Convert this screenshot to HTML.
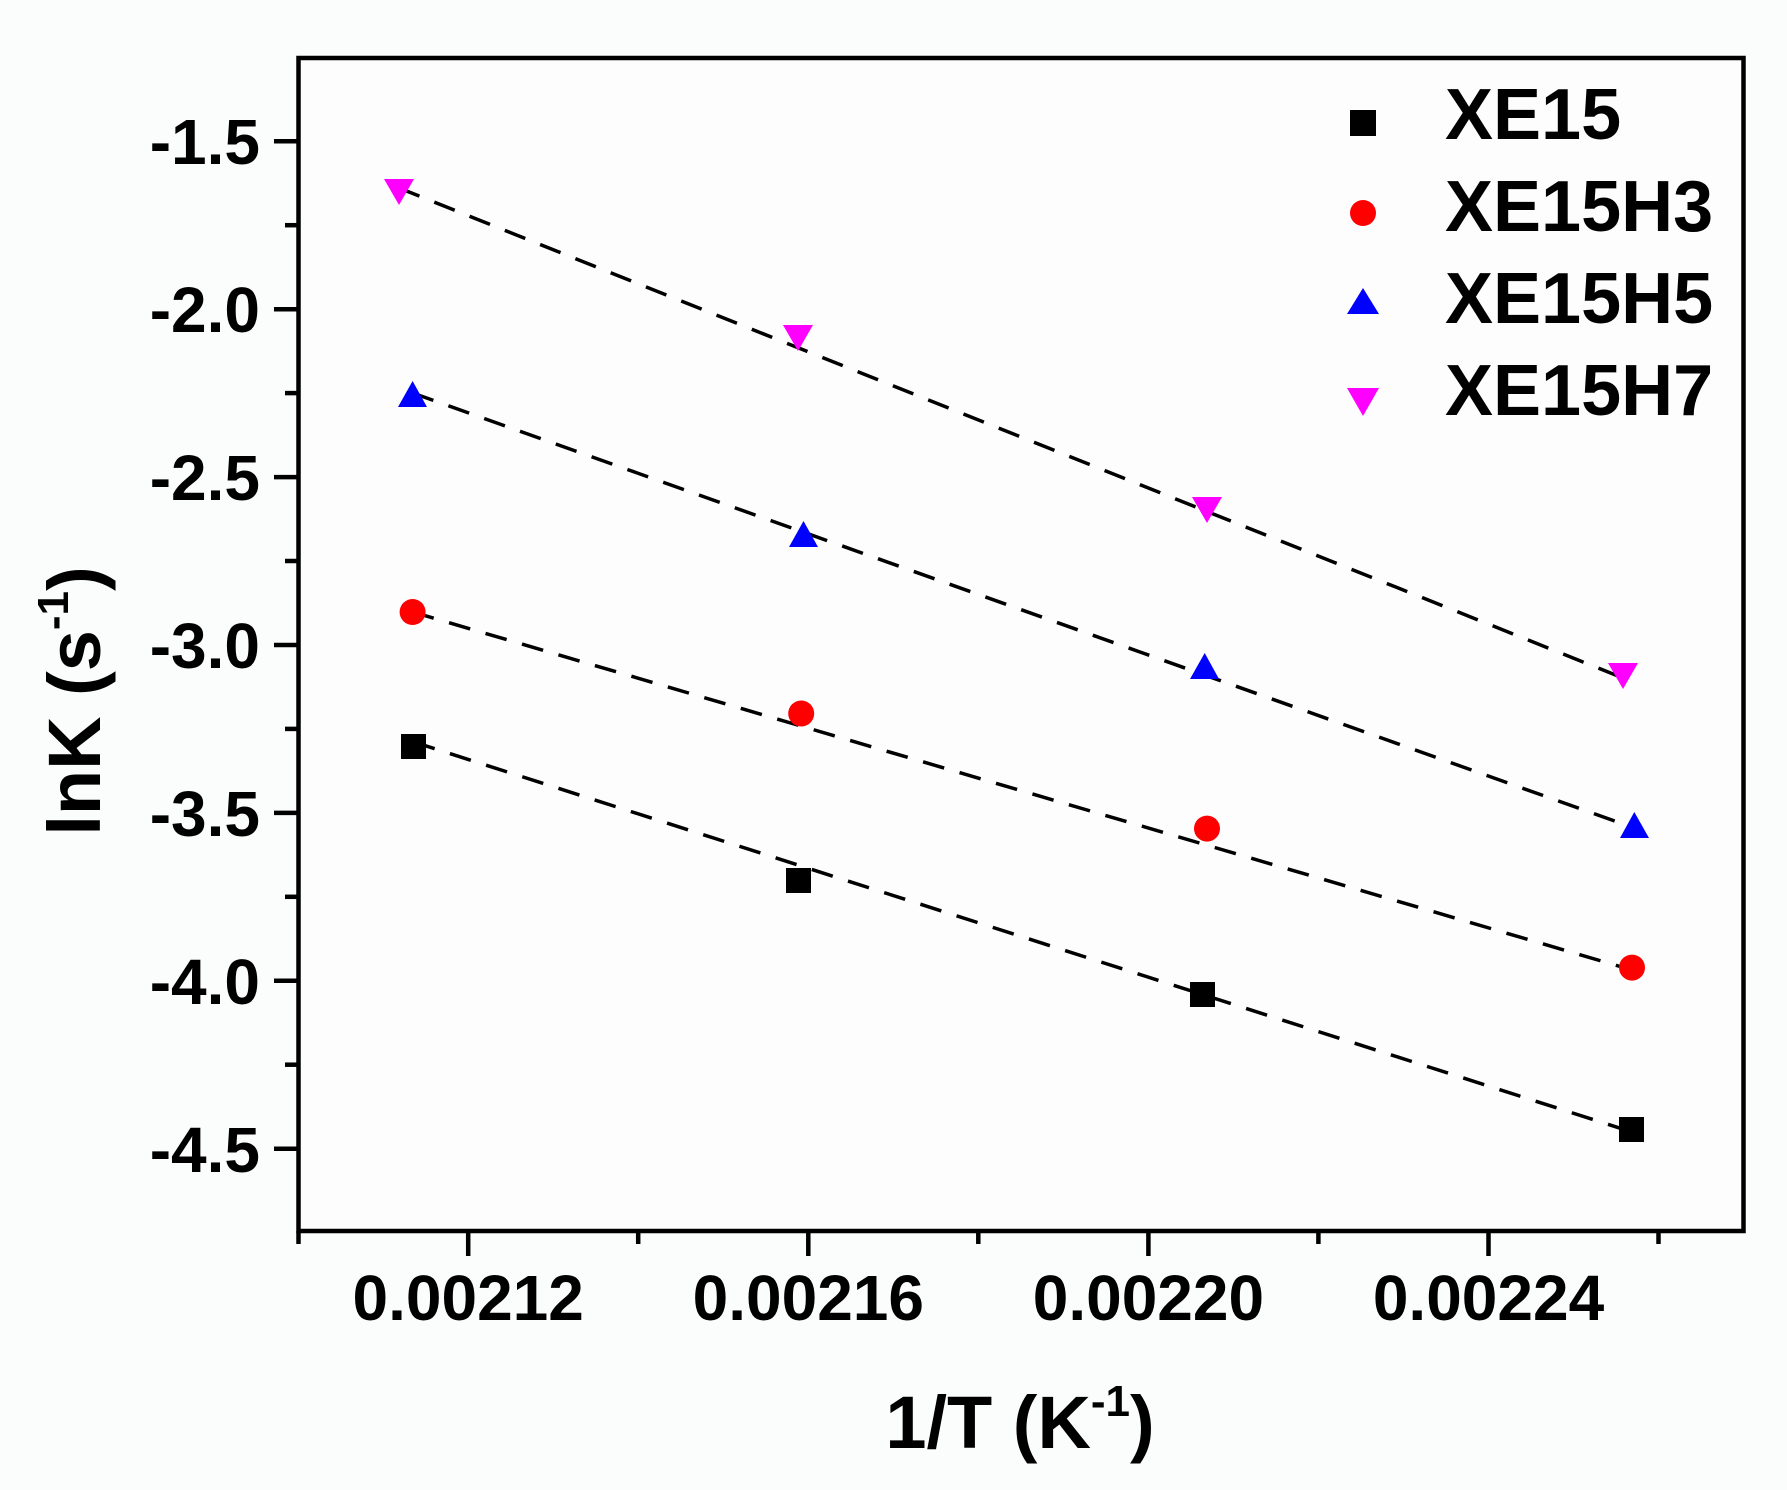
<!DOCTYPE html>
<html><head><meta charset="utf-8"><style>
html,body{margin:0;padding:0;background:#fbfcfc;}
svg{display:block;font-family:"Liberation Sans",Arial,sans-serif;font-weight:bold;}
</style></head><body>
<svg width="1787" height="1490" viewBox="0 0 1787 1490" xmlns="http://www.w3.org/2000/svg">
<rect x="0" y="0" width="1787" height="1490" fill="#fbfcfc"/>
<rect x="298.5" y="58" width="1445" height="1173" fill="#fdfdfd" stroke="#000" stroke-width="4.5"/>
<g stroke="#000" stroke-width="4.5">
<line x1="274" y1="141.3" x2="298" y2="141.3"/>
<line x1="274" y1="309.2" x2="298" y2="309.2"/>
<line x1="274" y1="477.1" x2="298" y2="477.1"/>
<line x1="274" y1="645" x2="298" y2="645"/>
<line x1="274" y1="812.9" x2="298" y2="812.9"/>
<line x1="274" y1="980.8" x2="298" y2="980.8"/>
<line x1="274" y1="1148.7" x2="298" y2="1148.7"/>
<line x1="285" y1="225.2" x2="298" y2="225.2"/>
<line x1="285" y1="393.1" x2="298" y2="393.1"/>
<line x1="285" y1="561" x2="298" y2="561"/>
<line x1="285" y1="728.9" x2="298" y2="728.9"/>
<line x1="285" y1="896.8" x2="298" y2="896.8"/>
<line x1="285" y1="1064.7" x2="298" y2="1064.7"/>
<line x1="468.2" y1="1231" x2="468.2" y2="1256"/>
<line x1="808.3" y1="1231" x2="808.3" y2="1256"/>
<line x1="1148.4" y1="1231" x2="1148.4" y2="1256"/>
<line x1="1488.5" y1="1231" x2="1488.5" y2="1256"/>
<line x1="298.5" y1="1231" x2="298.5" y2="1244"/>
<line x1="638.2" y1="1231" x2="638.2" y2="1244"/>
<line x1="978.3" y1="1231" x2="978.3" y2="1244"/>
<line x1="1318.4" y1="1231" x2="1318.4" y2="1244"/>
<line x1="1658.5" y1="1231" x2="1658.5" y2="1244"/>
</g>
<g font-size="64" text-anchor="end" fill="#000">
<text x="260" y="164">-1.5</text>
<text x="260" y="332">-2.0</text>
<text x="260" y="500">-2.5</text>
<text x="260" y="668">-3.0</text>
<text x="260" y="836">-3.5</text>
<text x="260" y="1004">-4.0</text>
<text x="260" y="1172">-4.5</text>
</g>
<g font-size="64" text-anchor="middle" fill="#000">
<text x="468.2" y="1320">0.00212</text>
<text x="808.3" y="1320">0.00216</text>
<text x="1148.4" y="1320">0.00220</text>
<text x="1488.5" y="1320">0.00224</text>
</g>
<text x="1020" y="1448" font-size="74" text-anchor="middle" fill="#000">1/T (K<tspan font-size="44" dy="-32">-1</tspan><tspan dy="32">)</tspan></text>
<text transform="translate(100,701) rotate(-90)" font-size="74" text-anchor="middle" fill="#000">lnK (s<tspan font-size="44" dy="-32">-1</tspan><tspan dy="32">)</tspan></text>
<g stroke="#000" stroke-width="3.5" stroke-dasharray="22,16" fill="none">
<line x1="413.7" y1="742" x2="1632" y2="1132"/>
<line x1="412.6" y1="612" x2="1632" y2="970"/>
<line x1="412.6" y1="393" x2="1634.3" y2="828"/>
<line x1="399" y1="188" x2="1623" y2="678"/>
</g>
<g fill="#000">
<rect x="401" y="734" width="25" height="25"/>
<rect x="786" y="868" width="25" height="25"/>
<rect x="1190" y="982" width="25" height="25"/>
<rect x="1619" y="1117" width="25" height="25"/>
<rect x="1350" y="110" width="26" height="26"/>
</g>
<g fill="#ff0000">
<circle cx="412.6" cy="612" r="13"/>
<circle cx="801.2" cy="713.5" r="13"/>
<circle cx="1207" cy="828.6" r="13"/>
<circle cx="1632" cy="967.6" r="13"/>
<circle cx="1363" cy="213" r="13"/>
</g>
<g fill="#0000ff">
<polygon points="412.6,381 398,407 427,407"/>
<polygon points="803.5,521 789,547 818,547"/>
<polygon points="1204.7,653 1190,679 1219,679"/>
<polygon points="1634.3,812 1620,838 1649,838"/>
<polygon points="1363,288 1347,314 1379,314"/>
</g>
<g fill="#ff00ff">
<polygon points="384,179 414,179 399,205"/>
<polygon points="783,325 813,325 798,351"/>
<polygon points="1192,497 1222,497 1207,523"/>
<polygon points="1608,663 1638,663 1623,689"/>
<polygon points="1347,388 1379,388 1363,416"/>
</g>
<g font-size="72" fill="#000">
<text x="1445" y="139">XE15</text>
<text x="1445" y="231">XE15H3</text>
<text x="1445" y="323">XE15H5</text>
<text x="1445" y="415">XE15H7</text>
</g>
</svg>
</body></html>
